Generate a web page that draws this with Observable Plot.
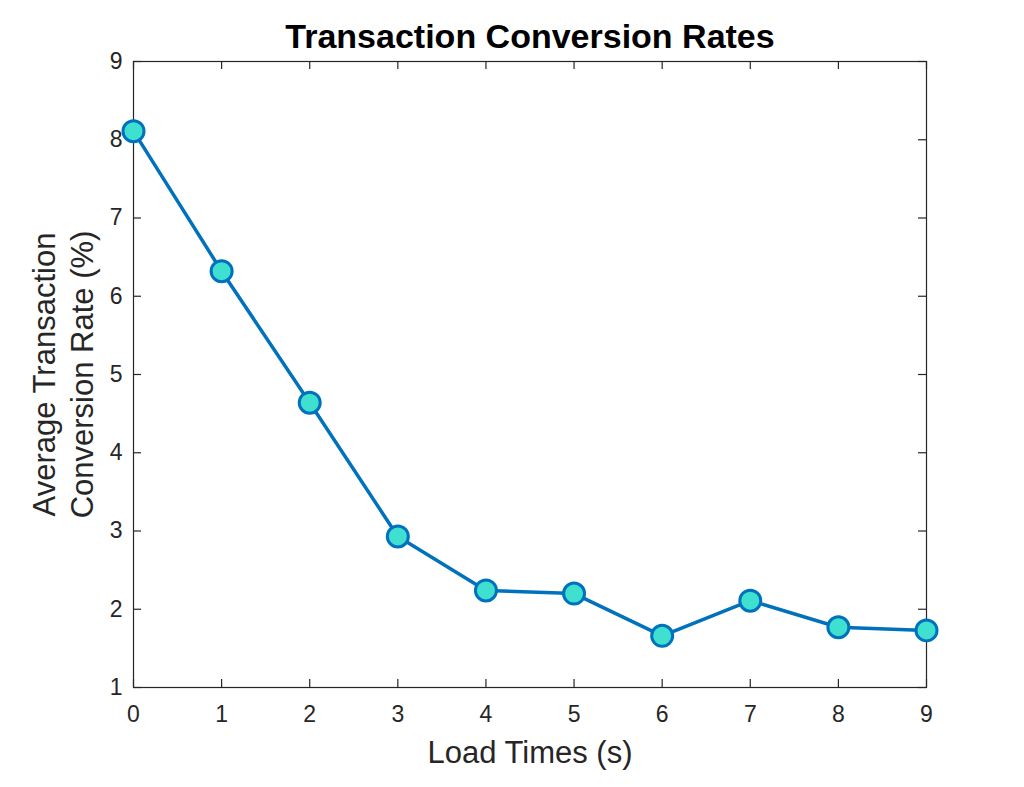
<!DOCTYPE html>
<html>
<head>
<meta charset="utf-8">
<script src="https://cdn.jsdelivr.net/npm/d3@7"></script>
<script src="https://cdn.jsdelivr.net/npm/@observablehq/plot@0.6"></script>
<style>
  html, body { margin: 0; padding: 0; background: #fff; }
  #chart svg { display: block; }
</style>
</head>
<body>
<div id="chart"></div>
<script>
const loadTimes = [0, 1, 2, 3, 4, 5, 6, 7, 8, 9];
const conversionRates = [8.11, 6.32, 4.64, 2.93, 2.24, 2.20, 1.66, 2.11, 1.77, 1.73];
const xTicks = [0, 1, 2, 3, 4, 5, 6, 7, 8, 9];
const yTicks = [1, 2, 3, 4, 5, 6, 7, 8, 9];
const titleText = "Transaction Conversion Rates";
const xLabel = "Load Times (s)";
const yLabel = "Average Transaction\nConversion Rate (%)";

const data = loadTimes.map((t, i) => ({t, r: conversionRates[i]}));

const W = 1024, H = 787;
const mL = 133, mR = 98, mT = 61, mB = 100;
const plotH = H - mT - mB;
const plotW = W - mL - mR;
const axisColor = "#262626";
const font = "'Liberation Sans', Arial, Helvetica, sans-serif";

const chart = Plot.plot({
  width: W,
  height: H,
  marginLeft: mL,
  marginRight: mR,
  marginTop: mT,
  marginBottom: mB,
  style: {fontFamily: font, background: "#fff", color: axisColor},
  x: {domain: [0, 9], axis: null},
  y: {domain: [1, 9], axis: null},
  marks: [
    Plot.frame({stroke: axisColor, strokeWidth: 1.2}),
    // inward ticks: bottom and top
    Plot.tickX(xTicks, {x: d => d, stroke: axisColor, strokeWidth: 1.2, insetTop: plotH - 8}),
    Plot.tickX(xTicks, {x: d => d, stroke: axisColor, strokeWidth: 1.2, insetBottom: plotH - 8}),
    // inward ticks: left and right
    Plot.tickY(yTicks, {y: d => d, stroke: axisColor, strokeWidth: 1.2, insetRight: plotW - 8}),
    Plot.tickY(yTicks, {y: d => d, stroke: axisColor, strokeWidth: 1.2, insetLeft: plotW - 8}),
    // tick labels
    Plot.text(xTicks, {x: d => d, text: d => String(d), frameAnchor: "bottom", dy: 27, fontSize: 23, fill: axisColor, lineAnchor: "middle"}),
    Plot.text(yTicks, {y: d => d, text: d => String(d), frameAnchor: "left", dx: -11, fontSize: 23, fill: axisColor, textAnchor: "end", lineAnchor: "middle"}),
    Plot.line(data, {x: "t", y: "r", stroke: "#0072BD", strokeWidth: 3.5}),
    Plot.dot(data, {x: "t", y: "r", r: 10.5, fill: "#40E0D0", stroke: "#0072BD", strokeWidth: 3}),
    Plot.text([titleText], {frameAnchor: "top", dy: -24, fontSize: 34, fontWeight: "bold", fill: "#000", lineAnchor: "middle"}),
    Plot.text([xLabel], {frameAnchor: "bottom", dy: 66, fontSize: 31, fill: axisColor, lineAnchor: "middle"}),
    Plot.text([yLabel], {frameAnchor: "left", dx: -72, rotate: -90, fontSize: 31, lineHeight: 1.22, fill: axisColor, textAnchor: "middle", lineAnchor: "middle"})
  ]
});
document.getElementById("chart").appendChild(chart);
</script>
</body>
</html>
